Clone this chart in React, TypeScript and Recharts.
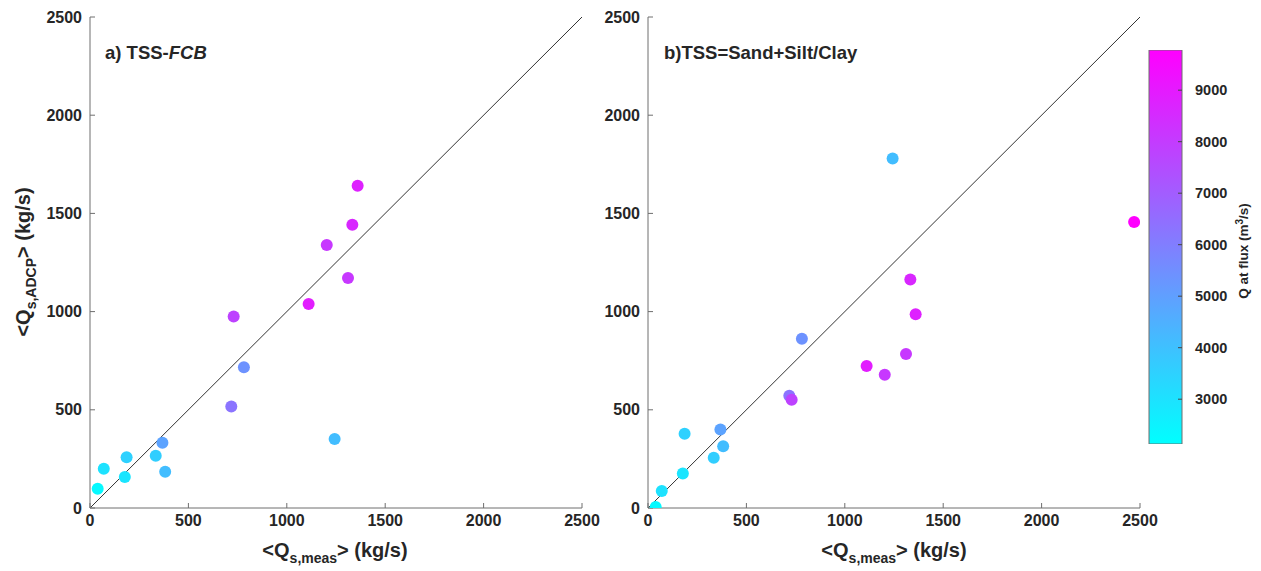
import { ScatterChart, Scatter, BarChart, Bar, XAxis, YAxis, ReferenceLine } from 'recharts';

// measured suspended sediment flux, shared by both panels (kg/s)
const qsMeas = [39, 70, 177, 186, 334, 368, 382, 718, 730, 782, 1111, 1203, 1243, 1311, 1333, 1360, 2470];
// ADCP estimate, a) TSS-FCB (last sample is off scale, not plotted)
const qsFcb = [98, 200, 158, 258, 266, 332, 185, 517, 975, 717, 1039, 1339, 351, 1171, 1442, 1641];
// ADCP estimate, b) TSS = sand + silt/clay
const qsSandSilt = [5, 87, 176, 378, 256, 400, 314, 572, 551, 862, 723, 679, 1780, 784, 1164, 987, 1456];
// discharge at time of flux measurement (m3/s)
const qFlux = [2300, 3000, 2900, 3500, 3600, 4900, 4100, 6300, 7800, 5400, 8900, 8100, 4100, 8100, 8600, 8800, 9800];

const axisTicks = [0, 500, 1000, 1500, 2000, 2500];
const cbarTicks = [3000, 4000, 5000, 6000, 7000, 8000, 9000];
const CBAR_MIN = 2130;
const CBAR_MAX = 9780;
const cbarRange = [{ name: 'Q', range: [CBAR_MIN, CBAR_MAX] }];

const FONT = '"Liberation Sans", Arial, Helvetica, sans-serif';
const TEXT = '#262626';
const AXIS = '#6e6e6e';

const panelA = qsFcb.map((y, i) => ({ x: qsMeas[i], y, q: qFlux[i] }));
const panelB = qsSandSilt.map((y, i) => ({ x: qsMeas[i], y, q: qFlux[i] }));

// matlab "cool" colormap
function coolColor(q: number) {
  const t = Math.min(1, Math.max(0, (q - CBAR_MIN) / (CBAR_MAX - CBAR_MIN)));
  return `rgb(${Math.round(255 * t)},${Math.round(255 * (1 - t))},255)`;
}

const tickStyle = { fill: TEXT, fontSize: 16, fontWeight: 700, fontFamily: FONT };

const Dot = (p: any) => <circle cx={p.cx} cy={p.cy} r={6} fill={coolColor(p.payload.q)} />;

function Panel({ data }: { data: any[] }) {
  return (
    <ScatterChart width={622} height={571} margin={{ top: 17, right: 40, bottom: 13, left: 30 }}>
      <XAxis type="number" dataKey="x" domain={[0, 2500]} ticks={axisTicks} interval={0}
        allowDataOverflow height={50} stroke={AXIS} tickSize={-5} tickMargin={12} tick={tickStyle} />
      <YAxis type="number" dataKey="y" domain={[0, 2500]} ticks={axisTicks} interval={0}
        allowDataOverflow width={60} stroke={AXIS} tickSize={-5} tickMargin={13} tick={tickStyle} />
      <ReferenceLine segment={[{ x: 0, y: 0 }, { x: 2500, y: 2500 }]} stroke="#333" strokeWidth={1} />
      <Scatter data={data} shape={Dot} isAnimationActive={false} />
    </ScatterChart>
  );
}

// gradient rect plus inward tick marks on its right edge
const CbarShape = (p: any) => {
  const { x, y, width, height } = p;
  return (
    <g>
      <rect x={x} y={y} width={width} height={height} fill="url(#coolmap)" stroke={AXIS} strokeWidth={1} />
      {cbarTicks.map((t) => {
        const ty = y + (height * (CBAR_MAX - t)) / (CBAR_MAX - CBAR_MIN);
        return <line key={t} x1={x + width - 4} x2={x + width} y1={ty} y2={ty} stroke="#444" strokeWidth={1} />;
      })}
    </g>
  );
};

// colour scale drawn as one ranged bar spanning the colormap limits
function Colorbar() {
  return (
    <BarChart width={121} height={571} data={cbarRange} barCategoryGap={0}
      margin={{ top: 50, right: 19, bottom: 127, left: 9 }}>
      <XAxis dataKey="name" hide />
      <YAxis type="number" orientation="right" domain={[CBAR_MIN, CBAR_MAX]} ticks={cbarTicks} interval={0}
        allowDataOverflow width={60} axisLine={false} tickLine={false} tickMargin={7}
        tick={{ ...tickStyle, fontSize: 14.5 }} />
      <Bar dataKey="range" shape={CbarShape} isAnimationActive={false} />
    </BarChart>
  );
}

export default function App() {
  const lbl = { fill: TEXT, fontWeight: 700, fontFamily: FONT };
  return (
    <div style={{ position: 'absolute', left: 0, top: 0, width: 1261, height: 571, background: '#fff', fontFamily: FONT }}>
      <svg width={0} height={0} style={{ position: 'absolute' }}>
        <defs>
          <linearGradient id="coolmap" x1="0" y1="1" x2="0" y2="0">
            <stop offset="0" stopColor="#00ffff" />
            <stop offset="1" stopColor="#ff00ff" />
          </linearGradient>
        </defs>
      </svg>
      <div style={{ position: 'absolute', left: 0, top: 0 }}><Panel data={panelA} /></div>
      <div style={{ position: 'absolute', left: 558, top: 0 }}><Panel data={panelB} /></div>
      <div style={{ position: 'absolute', left: 1140, top: 0 }}><Colorbar /></div>
      <svg width={1261} height={571} style={{ position: 'absolute', left: 0, top: 0, pointerEvents: 'none' }}>
        <text x={105} y={59} fontSize={18.5} {...lbl}>a) TSS-<tspan fontStyle="italic">FCB</tspan></text>
        <text x={664} y={59} fontSize={18.5} {...lbl}>b)TSS=Sand+Silt/Clay</text>
        <text transform="translate(30,262) rotate(-90)" textAnchor="middle" fontSize={20} {...lbl}>
          {'<Q'}<tspan dy={6} fontSize={14}>s,ADCP</tspan><tspan dy={-6}>{'> (kg/s)'}</tspan>
        </text>
        {[335, 894].map((cx) => (
          <text key={cx} x={cx} y={557} textAnchor="middle" fontSize={20} {...lbl}>
            {'<Q'}<tspan dy={6} fontSize={14}>s,meas</tspan><tspan dy={-6}>{'> (kg/s)'}</tspan>
          </text>
        ))}
        <text transform="translate(1248,251) rotate(-90)" textAnchor="middle" fontSize={13.5} {...lbl}>
          Q at flux (m<tspan dy={-5} fontSize={10}>3</tspan><tspan dy={5}>/s)</tspan>
        </text>
      </svg>
    </div>
  );
}
